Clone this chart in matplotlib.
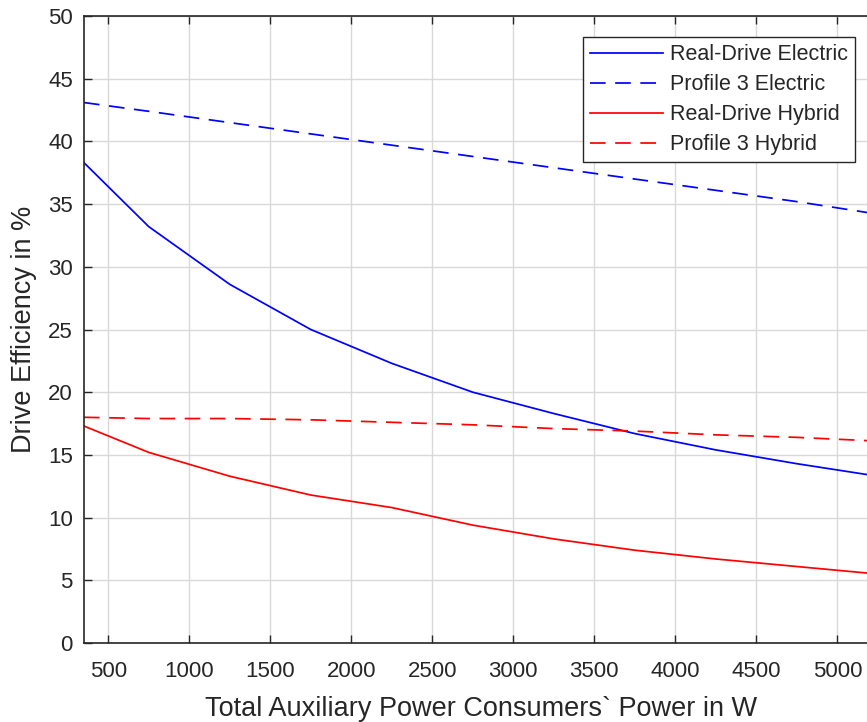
import matplotlib
matplotlib.use("Agg")
import matplotlib.pyplot as plt

plt.rcParams['font.family'] = ['Liberation Sans', 'DejaVu Sans']

# Auxiliary consumer power (W) and drive efficiency (%)
power_w = [350, 750, 1250, 1750, 2250, 2750, 3250, 3750, 4250, 4750, 5250]
real_electric = [38.3, 33.2, 28.6, 25.0, 22.3, 20.0, 18.3, 16.7, 15.4, 14.3, 13.3]
profile3_electric = [43.1, 42.4, 41.5, 40.6, 39.7, 38.8, 37.9, 37.0, 36.1, 35.2, 34.2]
real_hybrid = [17.3, 15.2, 13.3, 11.8, 10.8, 9.4, 8.3, 7.4, 6.7, 6.1, 5.5]
profile3_hybrid = [18.0, 17.9, 17.9, 17.8, 17.6, 17.4, 17.1, 16.9, 16.6, 16.4, 16.1]

x_ticks = [500, 1000, 1500, 2000, 2500, 3000, 3500, 4000, 4500, 5000]
y_ticks = list(range(0, 55, 5))

fig = plt.figure(figsize=(8.67, 7.22), dpi=100)
ax = fig.add_axes([0.0969, 0.1094, 0.9156, 0.8684])

dark = (0.15, 0.15, 0.15)
lw = 1.25
ax.plot(power_w, real_electric, color='#0000ff', lw=lw, label='Real-Drive Electric')
ax.plot(power_w, profile3_electric, color='#0000ff', lw=lw, dashes=(9, 5.5),
        label='Profile 3 Electric')
ax.plot(power_w, real_hybrid, color='#ff0000', lw=lw, label='Real-Drive Hybrid')
ax.plot(power_w, profile3_hybrid, color='#ff0000', lw=lw, dashes=(9, 5.5),
        label='Profile 3 Hybrid')

ax.set_xlim(350, 5250)
ax.set_ylim(0, 50)
ax.set_xticks(x_ticks)
ax.set_yticks(y_ticks)
ax.grid(True, color=(0.85, 0.85, 0.85), lw=1.0)
ax.set_axisbelow(True)
ax.tick_params(direction='in', top=True, right=True, length=6, width=1,
               color=dark, labelcolor=dark, labelsize=16)
ax.tick_params(axis='x', pad=13)
ax.tick_params(axis='y', pad=8)
for s in ax.spines.values():
    s.set_color(dark)
    s.set_linewidth(1.2)

ax.set_xlabel('Total Auxiliary Power Consumers` Power in W', fontsize=19.5,
              color=dark, labelpad=10)
ax.set_ylabel('Drive Efficiency in %', fontsize=19.5, color=dark, labelpad=8)

leg = ax.legend(loc='upper left', bbox_to_anchor=(0.6286, 0.9665),
                borderaxespad=0, fontsize=15.5, handlelength=3.4,
                handletextpad=0.3, labelspacing=0.42, fancybox=False,
                framealpha=1, edgecolor=dark, borderpad=0.33)
leg.get_frame().set_linewidth(1.0)
for t in leg.get_texts():
    t.set_color(dark)

fig.savefig('out.png', dpi=100)
